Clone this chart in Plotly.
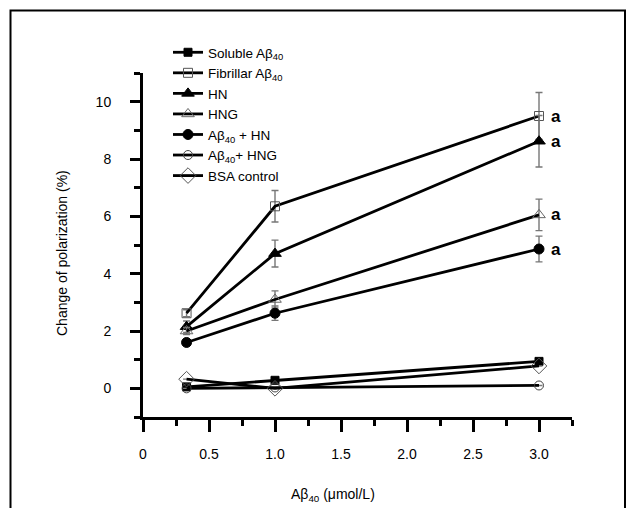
import plotly.graph_objects as go

x_vals = [0.33, 1.0, 3.0]

series_names = [
    "Soluble Aβ<sub>40</sub>",
    "Fibrillar Aβ<sub>40</sub>",
    "HN",
    "HNG",
    "Aβ<sub>40</sub> + HN",
    "Aβ<sub>40</sub>+ HNG",
    "BSA control",
]
soluble = [0.05, 0.28, 0.94]
fibrillar = [2.62, 6.35, 9.5]
hn = [2.15, 4.7, 8.62]
hng = [2.0, 3.1, 6.05]
ab_hn = [1.6, 2.62, 4.86]
ab_hng = [0.0, 0.03, 0.1]
bsa = [0.32, 0.0, 0.78]

err_soluble = [0.0, 0.0, 0.0]
err_fibrillar = [0.12, 0.55, 0.82]
err_hn = [0.2, 0.47, 0.9]
err_hng = [0.12, 0.3, 0.55]
err_ab_hn = [0.1, 0.25, 0.45]
err_ab_hng = [0.0, 0.0, 0.0]
err_bsa = [0.0, 0.0, 0.0]

sig_series = [fibrillar, hn, hng, ab_hn]
sig_label = "a"

x_ticks = [0, 0.5, 1.0, 1.5, 2.0, 2.5, 3.0]
x_tick_text = ["0", "0.5", "1.0", "1.5", "2.0", "2.5", "3.0"]
y_ticks = [0, 2, 4, 6, 8, 10]

FONT = "Liberation Sans, Arial, sans-serif"

styles = [
    dict(symbol="square", size=8, color="black", line=dict(color="black", width=1)),
    dict(symbol="square-open", size=9, color="#555555", line=dict(color="#555555", width=1)),
    dict(symbol="triangle-up", size=11, color="black", line=dict(color="black", width=1)),
    dict(symbol="triangle-up-open", size=11, color="#666666", line=dict(color="#666666", width=1)),
    dict(symbol="circle", size=10, color="black", line=dict(color="black", width=1)),
    dict(symbol="circle-open", size=9, color="#444444", line=dict(color="#444444", width=1)),
    dict(symbol="diamond-open", size=12, color="#555555", line=dict(color="#555555", width=1)),
]
data = [soluble, fibrillar, hn, hng, ab_hn, ab_hng, bsa]
errs = [err_soluble, err_fibrillar, err_hn, err_hng, err_ab_hn, err_ab_hng, err_bsa]

fig = go.Figure()
for name, ys, es, st in zip(series_names, data, errs, styles):
    fig.add_trace(go.Scatter(
        x=x_vals, y=ys, name=name, mode="lines+markers",
        line=dict(color="black", width=2.8),
        marker=st,
        error_y=dict(type="data", array=es, visible=True, color="#777777",
                     thickness=1.4, width=3.5),
    ))

for ys in sig_series:
    fig.add_annotation(x=x_vals[-1], y=ys[-1], text="<b>" + sig_label + "</b>", showarrow=False,
                       xshift=17, font=dict(family=FONT, size=17, color="black"))

fig.add_annotation(xref="paper", yref="paper", x=(333 - 143) / 429, y=(417 - 495) / 344,
                   xanchor="center", yanchor="middle",
                   text="Aβ<sub>40</sub> (μmol/L)", showarrow=False,
                   font=dict(family=FONT, size=14, color="black"))
fig.add_annotation(xref="paper", yref="paper", x=(62 - 143) / 429, y=(417 - 253) / 344,
                   xanchor="center", yanchor="middle",
                   text="Change of polarization (%)", showarrow=False, textangle=-90,
                   font=dict(family=FONT, size=14, color="black"))

# outer frame
fig.add_shape(type="rect", xref="paper", yref="paper",
              x0=(10.5 - 143) / 429, x1=(625 - 143) / 429,
              y0=(417 - 530) / 344, y1=(417 - 10.5) / 344,
              line=dict(color="black", width=2), fillcolor="rgba(0,0,0,0)")

fig.update_layout(
    width=635, height=508,
    margin=dict(l=143, r=63, t=73, b=91),
    paper_bgcolor="white", plot_bgcolor="white",
    font=dict(family=FONT, size=14, color="black"),
    showlegend=True,
    legend=dict(x=(168 - 143) / 429, y=(417 - 37) / 344, xanchor="left", yanchor="top",
                bgcolor="rgba(0,0,0,0)", font=dict(family=FONT, size=13.5, color="black"),
                tracegroupgap=0),
    xaxis=dict(range=[0, 3.25], tickvals=x_ticks, ticktext=x_tick_text,
               showgrid=False, zeroline=False, showline=True, linecolor="black",
               linewidth=3, ticks="outside", ticklen=12, tickwidth=3, tickcolor="black",
               ticklabelstandoff=10,
               minor=dict(tickvals=[0.25, 0.75, 1.25, 1.75, 2.25, 2.75, 3.25],
                          ticks="outside", ticklen=6, tickwidth=3, tickcolor="black"),
               tickfont=dict(family=FONT, size=14)),
    yaxis=dict(range=[-1, 11], tickvals=y_ticks,
               showgrid=False, zeroline=False, showline=True, linecolor="black",
               linewidth=3, ticks="outside", ticklen=10, tickwidth=3, tickcolor="black",
               ticklabelstandoff=16,
               minor=dict(tickvals=[-1, 1, 3, 5, 7, 9, 11],
                          ticks="outside", ticklen=6, tickwidth=3, tickcolor="black"),
               tickfont=dict(family=FONT, size=14)),
)

fig.write_html("out.html", config={"displayModeBar": False},
               post_script="document.body.style.margin='0';")
